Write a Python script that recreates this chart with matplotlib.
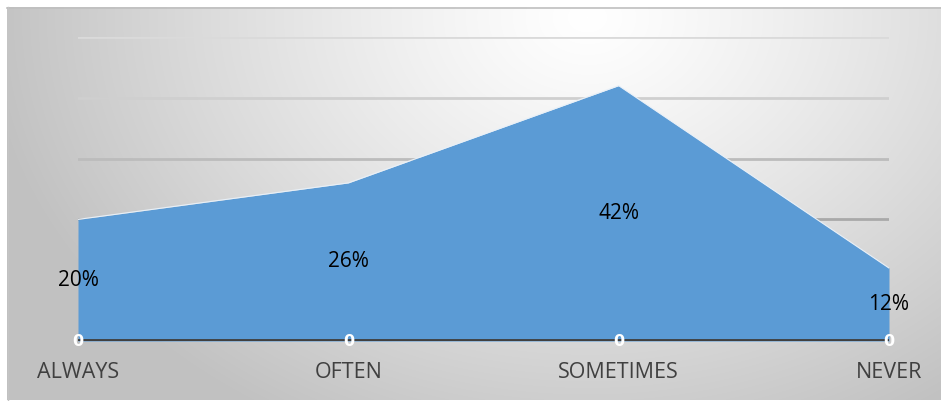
import numpy as np
import matplotlib
matplotlib.use("Agg")
import matplotlib.pyplot as plt

categories = ["ALWAYS", "OFTEN", "SOMETIMES", "NEVER"]
values = [20, 26, 42, 12]
labels = ["20%", "26%", "42%", "12%"]
zeros = [0, 0, 0, 0]
grid_levels = [20, 30, 40, 50]
grid_colors = ["#a9a9a9", "#bcbcbc", "#cfcfcf", "#dadada"]

W, H = 941, 401
fig = plt.figure(figsize=(W / 100, H / 100), dpi=100)
fig.patch.set_facecolor("white")

# radial gradient background of the chart area
bg = fig.add_axes([7 / W, 1 / H, 934 / W, 393 / H])
yy, xx = np.mgrid[0:393, 0:934]
d = np.sqrt((xx - 580) ** 2 + ((yy - 10) * 1.3) ** 2)
shade = 1.0 - 0.24 * np.clip(d / 600, 0, 1) ** 1.2
bg.imshow(np.dstack([shade] * 3), aspect="auto", extent=[0, 1, 0, 1])
bg.axis("off")
# top / left border line
fig.add_artist(plt.Line2D([7 / W, 1], [1 - 7.5 / H] * 2, color="#bfbfbf", lw=1.2))
fig.add_artist(plt.Line2D([7.5 / W] * 2, [1 / H, 1 - 7 / H], color="#c4c4c4", lw=1))

ax = fig.add_axes([78 / W, 60 / H, (889 - 78) / W, (341 - 37) / H])
ax.set_facecolor("none")
x = np.arange(len(categories))

for lvl, c in zip(grid_levels, grid_colors):
    ax.axhline(lvl, color=c, lw=2, zorder=1)

ax.fill_between(x, values, 0, color="#5b9bd5", zorder=2, lw=0)
ax.plot(x, values, color="#e8f0f8", lw=0.8, zorder=3)
ax.axhline(0, color="#404040", lw=3.5, zorder=4)

for xi, v, lab in zip(x, values, labels):
    ax.text(xi, v / 2, lab, ha="center", va="center", fontsize=15,
            color="black", family="Open Sans", zorder=5)
for xi, z in zip(x, zeros):
    ax.text(xi, z, str(z), ha="center", va="center", fontsize=11.5,
            color="white", fontweight="bold", zorder=6, clip_on=False)

ax.set_xlim(0, 3)
ax.set_ylim(0, 50)
ax.set_xticks(x)
ax.set_xticklabels(categories, fontsize=15.5, color="#404040", family="Open Sans")
ax.tick_params(axis="x", length=0, pad=15)
ax.set_yticks([])
for s in ax.spines.values():
    s.set_visible(False)

fig.savefig("out.png", dpi=100)
